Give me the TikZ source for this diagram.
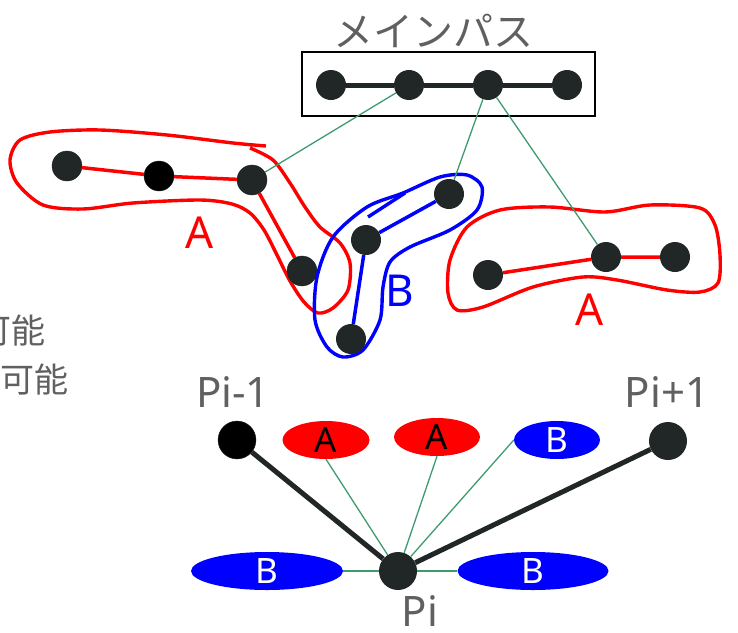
\documentclass[tikz,border=0pt]{standalone}
\usepackage{fontspec}
\setmainfont{Noto Sans}
\newfontfamily\jpfont{Noto Sans CJK JP}
\usepackage{tikz}
\usetikzlibrary{shapes.geometric}
\definecolor{dot}{HTML}{212727}
\definecolor{link}{HTML}{3E9B6E}
\definecolor{note}{HTML}{606060}
\tikzset{pt/.style={
  circle,fill=dot,inner sep=0pt,minimum size=30pt
  },
  big pt/.style={pt,minimum size=38pt},
  my link/.style={link,line width=1.3pt},
  blob/.style={ellipse,inner sep=0pt,minimum height=38pt,font=\fontsize{35}{35}\selectfont},
  ablob/.style={blob,fill=red},
  bblob/.style={blob,fill=blue,text=white},
  big text/.style={inner sep=0pt,font=\fontsize{44}{44}\selectfont},
  note text/.style={inner sep=0pt,text=note,font=\fontsize{42}{42}\selectfont},
  jp text/.style={inner sep=0pt,anchor=east,text=note,font=\jpfont\fontsize{34}{34}\selectfont}
}

\begin{document}
\begin{tikzpicture}[x=1pt,y=-1pt]
    \useasboundingbox (0,0) rectangle (738,632);

    \node[inner sep=0pt,text=note,font=\jpfont\fontsize{40}{40}\selectfont] (title) at (433,31) {メインパス};
    \node[draw,line width=1.3pt,minimum width=293pt,minimum height=64pt] (box) at (448.5,84) {};
    \foreach \x [count=\n] in {331,409,488,567}
        \node[pt] (M\n) at (\x,85) {};
    \draw[dot,line width=5pt] (M1) -- (M2) -- (M3) -- (M4);

    \node[jp text] (t1) at (46,331) {可能};
    \node[jp text] (t2) at (69,380) {可能};

    % left group A
    \draw[red,line width=3.4pt] plot[smooth] coordinates {(250,148) (273,160) (290,183) (305,207) (320,227) (340,243) (350,263) (348,290) (333,308) (318,313) (304,302) (290,281) (277,255) (264,230) (250,213) (232,204) (200,200) (133,203) (83,209) (43,205) (17,183) (10,160) (20,140) (50,132) (100,130) (167,135) (233,143) (266,146)};
    \foreach \x/\y/\c [count=\n] in {67/166/dot,159/176/black,252/180/dot,302/271/dot}
        \node[pt,fill=\c,draw=dot] (L\n) at (\x,\y) {};
    \draw[red,line width=3.5pt] (L1) -- (L2) -- (L3) -- (L4);
    \node[big text,text=red] (la) at (200,233) {A};

    % group B
    \draw[blue,line width=3.4pt] plot[smooth cycle] coordinates {(403,193) (367,207) (333,237) (317,277) (315,320) (327,347) (343,357) (363,350) (380,320) (383,287) (390,262) (410,247) (450,230) (477,210) (482,187) (467,175) (440,177)};
    \draw[blue,line width=3.4pt] (368,217) -- (405,193);
    \foreach \x/\y [count=\n] in {449/194,366/240,351/339}
        \node[pt] (B\n) at (\x,\y) {};
    \draw[blue,line width=3.5pt] (B1) -- (B2) -- (B3);
    \node[big text,text=blue] (lb) at (400,291) {B};

    % right group A
    \draw[red,line width=3.4pt] plot[smooth cycle] coordinates {(467,227) (500,210) (550,207) (605,212) (650,205) (700,208) (715,225) (720,255) (718,283) (700,292) (667,290) (617,280) (583,277) (533,287) (483,307) (457,310) (448,293) (450,260)};
    \foreach \x/\y [count=\n] in {488/275,606/257,675/257}
        \node[pt] (R\n) at (\x,\y) {};
    \draw[red,line width=3.5pt] (R1) -- (R2) -- (R3);
    \node[big text,text=red] (ra) at (590,310) {A};

    \draw[my link] (M2) -- (L3);
    \draw[my link] (M3) -- (B1);
    \draw[my link] (M3) -- (R2);

    % bottom
    \node[big pt,fill=black,draw=dot] (Pm) at (237,440) {};
    \node[big pt] (Pp) at (668,441) {};
    \node[big pt] (P) at (398,571) {};
    \node[note text] (lPm) at (233,392) {Pi-1};
    \node[note text] (lPp) at (667,392) {Pi+1};
    \node[note text] (lP) at (420,611) {Pi};

    \foreach \x/\y/\w/\s/\t [count=\n] in {326/440/87/ablob/A,437/437/86/ablob/A,557/440/86/bblob/B,267/571/152/bblob/B,533/571/151/bblob/B}
        \node[\s,minimum width=\w pt] (E\n) at (\x,\y) {\t};

    \draw[my link] (E1.south) -- (P);
    \draw[my link] (E2.south) -- (P);
    \draw[my link] (E3.west) -- (P);
    \draw[my link] (E4) -- (P);
    \draw[my link] (P) -- (E5);
    \draw[dot,line width=5pt] (Pm) -- (P) -- (Pp);
\end{tikzpicture}
\end{document}
